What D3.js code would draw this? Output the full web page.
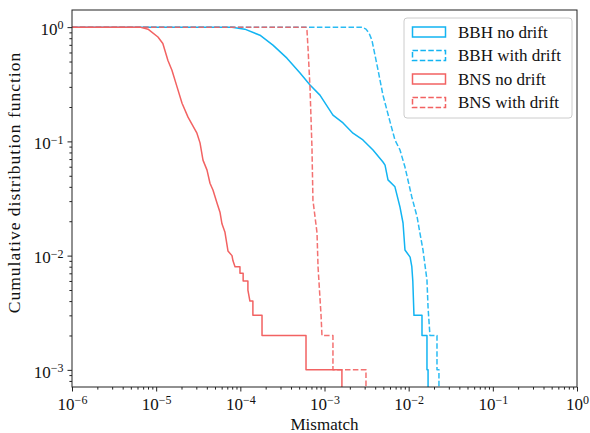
<!DOCTYPE html>
<html lang="en">
<head>
  <meta charset="UTF-8" />
  <title>Mismatch CDF</title>
  <script src="https://d3js.org/d3.v7.min.js"></script>
  <style>
    body { margin: 0; background: #fff; }
    svg { display: block; font-family: "Liberation Serif", "DejaVu Serif", serif; }
    .axis path, .axis line { stroke: #222; }
  </style>
</head>
<body>
  <svg id="chart" width="590" height="433"></svg>

  <script>
  // [mismatch, cumulative fraction] vertices
  const bbhNoDrift = [
    [1e-6, 1], [7.96e-5, 1], [1.13e-4, 0.96], [1.71e-4, 0.85], [2.44e-4, 0.696],
    [3.58e-4, 0.535], [5.12e-4, 0.396], [6.73e-4, 0.311], [8.83e-4, 0.254],
    [1.26e-3, 0.17], [1.66e-3, 0.145], [2.18e-3, 0.118], [2.86e-3, 0.103],
    [3.77e-3, 0.084], [4.95e-3, 0.066], [5.24e-3, 0.062], [5.68e-3, 0.046],
    [6.87e-3, 0.040], [7.89e-3, 0.0266], [8.57e-3, 0.0193], [9.04e-3, 0.0112],
    [1.04e-2, 0.0097], [1.09e-2, 0.008], [1.12e-2, 0.006], [1.156e-2, 0.003],
    [1.44e-2, 0.003], [1.44e-2, 0.002], [1.65e-2, 0.002], [1.65e-2, 0.001],
    [1.70e-2, 0.001], [1.70e-2, 1e-4]
  ];
  const bbhWithDrift = [
    [1e-6, 1], [2.79e-3, 1], [3.11e-3, 0.96], [3.38e-3, 0.886], [3.66e-3, 0.769],
    [3.98e-3, 0.569], [4.33e-3, 0.42], [4.95e-3, 0.254], [6.01e-3, 0.148],
    [6.87e-3, 0.103], [7.89e-3, 0.084], [9.04e-3, 0.0596], [1.09e-2, 0.0326],
    [1.26e-2, 0.0218], [1.36e-2, 0.0158], [1.48e-2, 0.0112], [1.65e-2, 0.0061],
    [1.70e-2, 0.0035], [1.79e-2, 0.002], [2.17e-2, 0.002], [2.17e-2, 0.001],
    [2.29e-2, 0.001], [2.29e-2, 1e-4]
  ];
  const bnsNoDrift = [
    [1e-6, 1], [6.4e-6, 1], [8.0e-6, 0.96], [1.05e-5, 0.82], [1.2e-5, 0.72],
    [1.38e-5, 0.51], [1.54e-5, 0.42], [1.77e-5, 0.30], [2.03e-5, 0.216],
    [2.39e-5, 0.163], [3.05e-5, 0.118], [3.32e-5, 0.097], [3.6e-5, 0.0685],
    [4.02e-5, 0.056], [4.36e-5, 0.043], [4.73e-5, 0.0375], [5.28e-5, 0.0289],
    [5.73e-5, 0.024], [6.05e-5, 0.019], [6.57e-5, 0.016], [7.13e-5, 0.011],
    [7.96e-5, 0.010], [8.18e-5, 0.009], [8.65e-5, 0.008], [9.9e-5, 0.008],
    [9.9e-5, 0.007], [1.08e-4, 0.007], [1.08e-4, 0.006], [1.23e-4, 0.006],
    [1.23e-4, 0.005], [1.30e-4, 0.004], [1.41e-4, 0.004], [1.41e-4, 0.003],
    [1.81e-4, 0.003], [1.81e-4, 0.002], [6.03e-4, 0.002], [6.03e-4, 0.001],
    [1.61e-3, 0.001], [1.61e-3, 1e-4]
  ];
  const bnsWithDrift = [
    [1e-6, 1], [6.03e-4, 1], [6.19e-4, 0.94], [6.37e-4, 0.655], [6.73e-4, 0.293],
    [7.10e-4, 0.0874], [7.29e-4, 0.0306], [8.15e-4, 0.0158], [8.38e-4, 0.008],
    [9.1e-4, 0.003], [9.33e-4, 0.002], [1.26e-3, 0.002], [1.26e-3, 0.001],
    [3.11e-3, 0.001], [3.11e-3, 1e-4]
  ];

  const seriesNames = ["BBH no drift", "BBH with drift", "BNS no drift", "BNS with drift"];
  const seriesData = [bbhNoDrift, bbhWithDrift, bnsNoDrift, bnsWithDrift];
  const seriesColors = ["#12b4f2", "#12b4f2", "#f26262", "#f26262"];
  const seriesDashed = [false, true, false, true];

  const xTickExps = [-6, -5, -4, -3, -2, -1, 0];
  const yTickExps = [0, -1, -2, -3];
  const xLabel = "Mismatch";
  const yLabel = "Cumulative distribution function";

  const svg = d3.select("#chart"),
        margin = { left: 72, right: 13, top: 10, bottom: 46 },
        W = +svg.attr("width"), H = +svg.attr("height"),
        x = d3.scaleLog().domain([1e-6, 1]).range([margin.left, W - margin.right]),
        y = d3.scaleLog().domain([10 ** 0.15, 10 ** -3.15]).range([margin.top, H - margin.bottom]);

  function minors(lo, hi) {
    const out = [];
    for (let e = lo; e < hi; e++) for (let k = 2; k <= 9; k++) out.push(k * 10 ** e);
    return out;
  }

  svg.append("clipPath").attr("id", "plotclip").append("rect")
    .attr("x", x.range()[0]).attr("y", y.range()[0])
    .attr("width", x.range()[1] - x.range()[0])
    .attr("height", y.range()[1] - y.range()[0]);

  // minor ticks
  svg.append("g").attr("class", "axis")
    .attr("transform", `translate(0,${y.range()[1]})`)
    .call(d3.axisBottom(x).tickValues(minors(-6, 0)).tickSize(2.6).tickFormat(""))
    .call(g => g.select(".domain").remove());
  svg.append("g").attr("class", "axis")
    .attr("transform", `translate(${x.range()[0]},0)`)
    .call(d3.axisLeft(y).tickValues(minors(-4, 1).filter(v => v > y.domain()[1] && v < y.domain()[0]))
      .tickSize(2.6).tickFormat(""))
    .call(g => g.select(".domain").remove());

  // major ticks with 10^n labels
  function powLabel(sel) {
    sel.selectAll("text").each(function(d) {
      const t = d3.select(this).text(null);
      const e = Math.round(Math.log10(d));
      t.append("tspan").text("10");
      t.append("tspan").attr("dy", "-0.45em").attr("font-size", "12px")
        .text(e < 0 ? "\u2212" + (-e) : String(e));
    });
  }
  svg.append("g").attr("class", "axis")
    .attr("font-family", "Liberation Serif").attr("font-size", 17)
    .attr("transform", `translate(0,${y.range()[1]})`)
    .call(d3.axisBottom(x).tickValues(xTickExps.map(e => 10 ** e)).tickSize(4.5).tickPadding(6))
    .attr("font-family", "Liberation Serif").attr("font-size", 17)
    .call(g => g.select(".domain").remove())
    .call(g => g.selectAll("text").attr("fill", "#111"))
    .call(powLabel);
  svg.append("g").attr("class", "axis")
    .attr("transform", `translate(${x.range()[0]},0)`)
    .call(d3.axisLeft(y).tickValues(yTickExps.map(e => 10 ** e)).tickSize(4.5).tickPadding(4))
    .attr("font-family", "Liberation Serif").attr("font-size", 17)
    .call(g => g.select(".domain").remove())
    .call(g => g.selectAll("text").attr("fill", "#111").attr("dy", "0.42em"))
    .call(powLabel);

  // curves
  const line = d3.line().x(d => x(d[0])).y(d => y(d[1]));
  const plot = svg.append("g").attr("clip-path", "url(#plotclip)");
  seriesData.forEach((data, i) => {
    plot.append("path")
      .datum(data)
      .attr("d", line)
      .attr("fill", "none")
      .attr("stroke", seriesColors[i])
      .attr("stroke-width", 1.5)
      .attr("stroke-linejoin", "round")
      .attr("stroke-dasharray", seriesDashed[i] ? "5.5,2.4" : null)
      .attr("opacity", seriesDashed[i] ? 0.9 : 1);
  });

  // frame
  svg.append("rect")
    .attr("x", x.range()[0]).attr("y", y.range()[0])
    .attr("width", x.range()[1] - x.range()[0])
    .attr("height", y.range()[1] - y.range()[0])
    .attr("fill", "none").attr("stroke", "#222").attr("stroke-width", 1);

  // axis labels
  svg.append("text")
    .attr("x", (x.range()[0] + x.range()[1]) / 2).attr("y", 430)
    .attr("text-anchor", "middle").attr("font-size", "17px").attr("fill", "#111")
    .text(xLabel);
  svg.append("text")
    .attr("transform", `translate(20,${(y.range()[0] + y.range()[1]) / 2 - 16}) rotate(-90)`)
    .attr("text-anchor", "middle").attr("font-size", "17.5px").attr("fill", "#111")
    .attr("letter-spacing", "1px")
    .text(yLabel);

  // legend
  const leg = svg.append("g").attr("transform", "translate(404,18)");
  leg.append("rect").attr("width", 168).attr("height", 100).attr("rx", 3)
    .attr("fill", "#fff").attr("fill-opacity", 0.8)
    .attr("stroke", "#ccc").attr("stroke-width", 1);
  seriesNames.forEach((name, i) => {
    const row = leg.append("g").attr("transform", `translate(0,${14 + i * 23.5})`);
    row.append("rect").attr("x", 8.5).attr("y", -5).attr("width", 33).attr("height", 10)
      .attr("fill", "none").attr("stroke", seriesColors[i]).attr("stroke-width", 1.5)
      .attr("stroke-dasharray", seriesDashed[i] ? "5.5,2.4" : null);
    row.append("text").attr("x", 54).attr("y", 5.5).attr("font-size", "17px").attr("fill", "#111")
      .text(name);
  });
  </script>
</body>
</html>
